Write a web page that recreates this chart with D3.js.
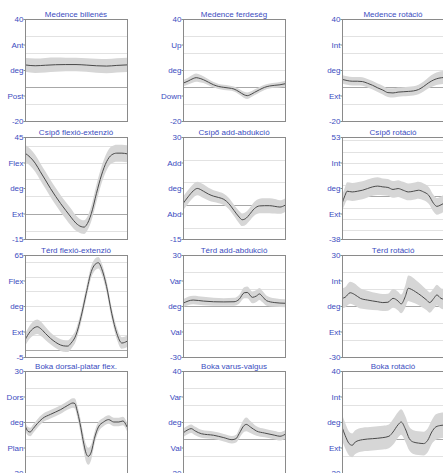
<!DOCTYPE html>
<html><head><meta charset="utf-8">
<script src="https://cdn.jsdelivr.net/npm/d3@7"></script>
<style>body{margin:0;background:#fff}svg{display:block}</style>
</head><body><svg id="c" width="443" height="473"></svg>
<script>
const titles = ["Medence billenés","Medence ferdeség","Medence rotáció",
  "Csípő flexió-extenzió","Csípő add-abdukció","Csípő rotáció",
  "Térd flexió-extenzió","Térd add-abdukció","Térd rotáció",
  "Boka dorsal-platar flex.","Boka varus-valgus","Boka rotáció"];
const yMax = [40,40,40,45,30,53,65,30,30,30,40,40];
const yMin = [-20,-20,-20,-15,-15,-38,-5,-30,-30,-30,-20,-20];
const midLabels = [["Ant","deg","Post"],["Up","deg","Down"],["Int","deg","Ext"],
  ["Flex","deg","Ext"],["Add","deg","Abd"],["Int","deg","Ext"],
  ["Flex","deg","Ext"],["Var","deg","Val"],["Int","deg","Ext"],
  ["Dors","deg","Plan"],["Var","deg","Val"],["Int","deg","Ext"]];

// gait cycle % / mean / band half-width
const x1 = [0,10,20,30,40,50,60,70,80,90,100];
const m1 = [13.0,12.5,12.8,13.1,13.2,13.2,12.9,12.5,12.3,12.7,13.0];
const s1 = [4.0,4.2,4.3,4.2,4.0,4.0,4.0,4.1,4.2,4.2,4.2];

const x2 = [0,5,10,13,15,20,25,30,35,40,45,50,55,60,63,65,70,75,80,85,90,95,100];
const m2 = [2.2,3.5,5.0,5.5,5.3,4.3,2.8,1.3,0.3,-0.2,-0.6,-1.2,-2.8,-4.6,-5.1,-4.8,-3.2,-1.6,-0.2,0.6,1.0,1.3,1.9];
const s2 = [1.8,2.0,2.3,2.4,2.3,2.0,1.8,1.6,1.5,1.5,1.5,1.5,1.6,1.8,1.9,1.8,1.7,1.6,1.5,1.5,1.5,1.6,1.8];

const x3 = [0,5,10,15,20,25,30,35,40,45,50,55,60,65,70,75,80,85,90,95,100];
const m3 = [4.5,3.8,3.4,3.4,3.2,2.2,1.0,-0.5,-1.8,-3.3,-3.5,-3.0,-2.8,-2.6,-2.3,-1.5,0.3,2.5,4.2,5.2,5.6];
const s3 = [2.5,2.5,2.5,2.5,2.5,2.5,2.5,2.5,2.6,2.6,2.7,2.7,2.7,2.7,2.7,2.8,3.0,3.3,3.6,3.8,3.8];

const x4 = [0,5,10,15,20,25,30,35,40,45,50,55,58,60,65,70,75,80,85,90,95,100];
const m4 = [35.5,33.1,29.6,24.6,19.7,14.7,10.1,5.8,1.8,-2.1,-5.7,-7.7,-8.0,-7.0,-0.1,11.7,22.6,30.5,34.5,35.5,35.5,35.1];
const s4 = [5,5,5,5,5,5,5,5,5,5,4.5,4,4,4,4.5,5,5,5,5,5,5,5];

const x5 = [0,5,10,14,20,25,30,35,40,45,50,55,58,62,65,70,75,80,85,90,95,100];
const m5 = [0.6,3.6,6.2,7.3,6.1,4.8,3.9,3.3,2.5,0.6,-2.4,-5.3,-6.5,-5.8,-4.3,-1.6,-0.4,-0.3,-0.3,-0.6,-0.9,-0.1];
const s5 = [3,3,3,3,3,2.8,2.6,2.5,2.5,2.5,2.5,2.7,2.8,2.8,2.8,3,3.2,3.3,3.3,3.2,3,3];

const x6 = [0,3,5,10,15,20,25,30,35,40,45,50,55,60,65,70,75,80,85,90,93,96,100];
const m6 = [-6.5,1,4.6,4,4.6,5.5,7,8.5,9.2,8.5,8,6.2,7,5.5,4,4.6,5.5,4,1,-6.5,-8.9,-8,-6];
const s6 = [7,7.5,8,8,8,8,8,8,8,7.5,7.5,7.5,7.5,7.5,7.5,7.5,7.5,7.5,7.5,7.5,7.5,7.5,7.5];

const x7 = [0,5,10,12,15,20,25,30,35,40,42,45,50,55,60,65,70,72,75,80,85,90,95,100];
const m7 = [6.7,12.4,15.4,15.8,14.7,11.2,7.8,5.1,3.2,2.5,2.5,4.4,10.1,22.7,38.7,53.6,59.3,59.7,55.9,43.3,25,11.2,4.6,5.8];
const s7 = [4,4.5,5,5,5,4.5,4,4,4,4,4,4,4,4,4,4,4,4,4,4,4,4,4,4];

const x8 = [0,10,20,30,40,50,55,60,63,68,72,75,78,82,90,100];
const m8 = [1.6,3.5,2.9,2.5,2.4,2.5,3.9,7.8,8.0,5.1,5.9,7.1,5.5,3.1,2.0,1.6];
const s8 = [2.3,2.5,2.5,2.3,2.2,2.3,2.6,3.3,3.5,3.5,3.5,3.5,3.3,3,2.5,2.3];

const x9 = [0,3,8,12,18,25,35,40,45,50,55,58,62,65,68,72,78,83,86,90,93,97,100];
const m9 = [4.5,5.1,7.8,6.9,4.5,3.5,2.5,2.0,2.2,4.5,2.9,1.2,5.5,10.4,9.8,8.4,5.9,3.5,2.0,4.5,6.5,4.5,4.0];
const s9 = [6,6,6.5,6.5,6,5.5,5,5,5,5.5,5.5,5.5,6.5,7.5,7.5,7,6.5,6,6,6,6,6,6];

const x10 = [0,3,5,8,12,17,25,35,42,47,49,51,54,57,60,62,65,68,72,77,82,87,92,96,100];
const m10 = [-2,-5.5,-5.9,-3.9,-1,2,4.5,7.3,9.8,11.2,10.8,6.9,-1,-10.8,-18.6,-20.2,-17.6,-9.8,-2.9,0,1.4,0,0,0.6,-2.9];
const s10 = [2.5,2.5,2.5,2.5,2.5,2.5,2.5,2.5,2.5,2.8,3,3.5,4,4.5,5,5,4.5,3.5,3,2.5,2.5,2.5,2.5,2.5,2.5];

const x11 = [0,5,8,12,18,30,40,48,52,55,60,62,66,72,80,90,95,100];
const m11 = [3.5,5.5,6.1,4.7,3.1,2.2,0.8,-0.4,0.2,3.1,8,8.6,7.1,4.7,3.5,2.2,1.6,2.7];
const s11 = [2.5,2.5,2.5,2.5,2.3,2.2,2.2,2.2,2.3,2.8,3.8,4,3.5,2.8,2.5,2.5,2.5,2.5];

const x12 = [0,3,7,10,13,20,30,40,46,50,55,58,62,66,70,75,80,84,88,92,97,100];
const m12 = [7.1,2.2,-2.7,-3.7,-1.8,-0.4,0.2,0.8,1.6,4.1,8.4,10,6.1,0.2,-1.8,-2.4,-2.7,-0.8,4.1,7.1,8,8.2];
const s12 = [7.5,7.5,7,7,7,7,7,7,7,7.5,7.5,7.5,7.5,7,7,7,7,7,7,7.5,7.5,7.5];

const xs = [x1,x2,x3,x4,x5,x6,x7,x8,x9,x10,x11,x12];
const means = [m1,m2,m3,m4,m5,m6,m7,m8,m9,m10,m11,m12];
const sds = [s1,s2,s3,s4,s5,s6,s7,s8,s9,s10,s11,s12];

const svg = d3.select("#c");
const colLeft = [25,183,342];
const rowTop = [19,137,255,371];
const W = 102, H = 102;
const blue = "#3b4cc0";

titles.forEach((t,i)=>{
  const r = Math.floor(i/3), c = i%3;
  const g = svg.append("g").attr("transform",`translate(${colLeft[c]},${rowTop[r]})`);
  const x = d3.scaleLinear().domain([0,100]).range([0,W]);
  const y = d3.scaleLinear().domain([yMin[i],yMax[i]]).range([H,0]);
  const cid = "clip"+i;
  g.append("clipPath").attr("id",cid).append("rect").attr("width",W).attr("height",H);
  const pg = g.append("g").attr("clip-path",`url(#${cid})`);
  // grid every 10 deg
  const gv = d3.range(Math.ceil(yMin[i]/10)*10, yMax[i]+0.001, 10).filter(v=>v>yMin[i]&&v<yMax[i]);
  pg.selectAll("line.grid").data(gv).join("line")
    .attr("x1",0).attr("x2",W).attr("y1",d=>Math.round(y(d))+0.5).attr("y2",d=>Math.round(y(d))+0.5)
    .attr("stroke",d=>d===0?"#a8a8a8":"#e2e2e2").attr("stroke-width",1);
  const pts = xs[i].map((xv,k)=>({x:xv,m:means[i][k],s:sds[i][k]}));
  pg.append("path").datum(pts)
    .attr("d",d3.area().curve(d3.curveMonotoneX).x(d=>x(d.x)).y0(d=>y(d.m-d.s)).y1(d=>y(d.m+d.s)))
    .attr("fill","#d6d6d6");
  pg.append("path").datum(pts)
    .attr("d",d3.line().curve(d3.curveMonotoneX).x(d=>x(d.x)).y(d=>y(d.m)))
    .attr("fill","none").attr("stroke","#4a4a4a").attr("stroke-width",1);
  g.append("rect").attr("x",0.5).attr("y",0.5).attr("width",W).attr("height",H)
    .attr("fill","none").attr("stroke","#8a8a8a").attr("stroke-width",1);
  // left labels at quarters
  const lv = d3.range(5).map(k=>yMax[i]-(yMax[i]-yMin[i])*k/4);
  const names = [String(yMax[i]), ...midLabels[i], String(yMin[i])];
  const ax = d3.axisLeft(y).tickValues(lv).tickSize(2).tickPadding(0)
    .tickFormat((d,k)=>names[k]);
  const ag = g.append("g").attr("transform","translate(0.5,0)").call(ax);
  ag.select(".domain").remove();
  ag.selectAll("line").attr("stroke","#8a8a8a");
  ag.selectAll("text").attr("fill",blue).style("font-family","'Liberation Sans',Arial,sans-serif").style("font-size","8px");
  g.append("text").attr("x",W/2).attr("y",-2).attr("text-anchor","middle")
    .attr("fill",blue).style("font-family","'Liberation Sans',Arial,sans-serif").style("font-size","8px").text(t);
});
</script></body></html>
